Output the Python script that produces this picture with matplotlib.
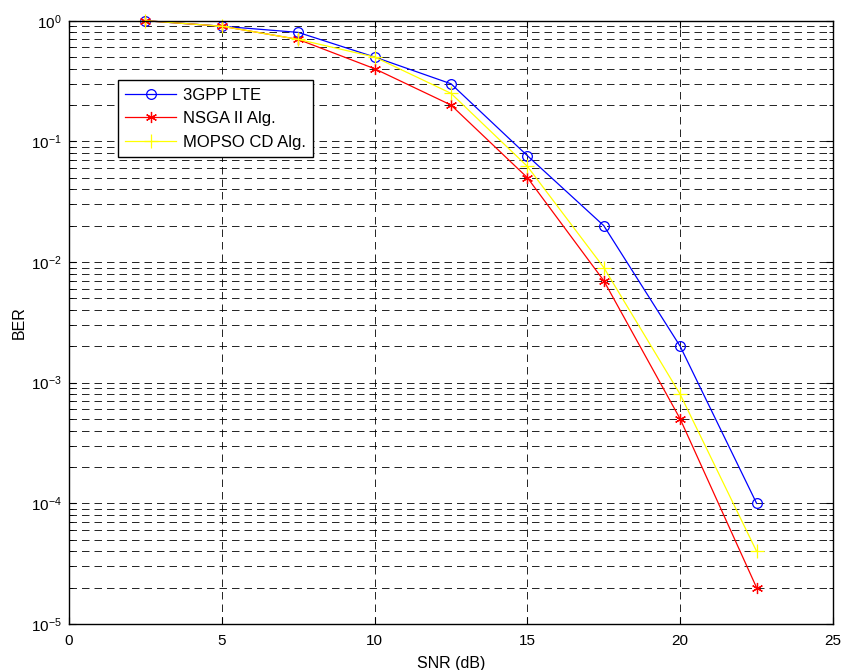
import matplotlib
matplotlib.use("Agg")
import matplotlib.pyplot as plt
import numpy as np

plt.rcParams["font.family"] = ["Liberation Sans", "DejaVu Sans"]
plt.rcParams["font.size"] = 11
plt.rcParams["axes.unicode_minus"] = False

snr = [2.5, 5, 7.5, 10, 12.5, 15, 17.5, 20, 22.5]
ber_lte = [1.0, 0.9, 0.8, 0.5, 0.3, 0.076, 0.02, 0.002, 1e-4]
ber_nsga = [1.0, 0.9, 0.7, 0.4, 0.2, 0.05, 0.007, 0.0005, 2e-5]
ber_mopso = [1.0, 0.9, 0.7, 0.5, 0.25, 0.062, 0.009, 0.0008, 4e-5]
labels = ["3GPP LTE", "NSGA II Alg.", "MOPSO CD Alg."]

# matlab-ish asterisk: six spokes
asterisk = (6, 2, 0)

fig = plt.figure(figsize=(8.41, 6.70), dpi=100)
ax = fig.add_axes([69 / 841, 1 - 624 / 670, (833 - 69) / 841, (624 - 20.7) / 670])

ax.semilogy(snr, ber_lte, color="blue", lw=0.9, marker="o", ms=7,
            mfc="none", mec="blue", mew=0.9, label=labels[0], clip_on=False)
ax.semilogy(snr, ber_nsga, color="red", lw=0.9, marker=asterisk, ms=8,
            mec="red", mew=0.9, label=labels[1], clip_on=False)
ax.semilogy(snr, ber_mopso, color="yellow", lw=0.9, marker="+", ms=10,
            mec="yellow", mew=0.9, label=labels[2], clip_on=False)

ax.set_xlim(0, 25)
ax.set_ylim(1e-5, 1)
ax.set_xticks(np.arange(0, 26, 5))

dash = (0, (9, 6))
ax.grid(True, which="major", axis="both", color="black", lw=0.6, linestyle=dash)
ax.grid(True, which="minor", axis="y", color="black", lw=0.6, linestyle=dash)
ax.set_axisbelow(True)

ax.tick_params(which="both", direction="in", top=True, right=True)
ax.tick_params(which="major", length=5, width=0.8)
ax.tick_params(which="minor", length=3, width=0.6)
ax.tick_params(axis="x", pad=7)
ax.tick_params(axis="y", pad=5)
for s in ax.spines.values():
    s.set_linewidth(1.0)

ax.set_xlabel("SNR (dB)", fontsize=11.5, labelpad=6)
ax.set_ylabel("BER", fontsize=11.5, labelpad=3)

leg = ax.legend(loc="upper left", bbox_to_anchor=(0.0641, 0.9017),
                borderaxespad=0, fancybox=False, framealpha=1,
                edgecolor="black", fontsize=12, handlelength=3.05,
                handletextpad=0.4, borderpad=0.45, labelspacing=0.52)
leg.get_frame().set_linewidth(1.0)

fig.savefig("out.png", dpi=100)
